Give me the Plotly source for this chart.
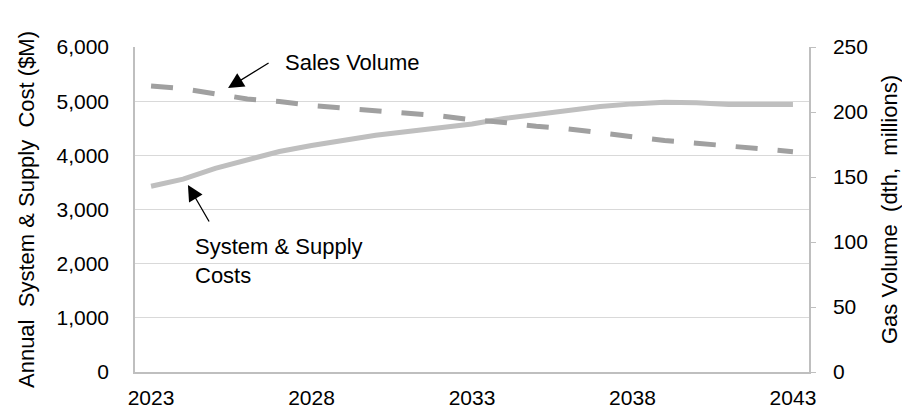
import plotly.graph_objects as go

years = list(range(2023, 2044))
costs = [3430, 3560, 3760, 3920, 4070, 4180, 4280, 4370, 4440, 4510, 4580,
         4680, 4750, 4840, 4900, 4950, 4980, 4970, 4940, 4940, 4940]
sales_volume = [220, 218, 214, 210, 208, 205, 203, 201, 199, 197, 194,
                192, 189, 187, 184, 181, 178, 176, 174, 172, 169.5]
x_ticks = [2023, 2028, 2033, 2038, 2043]
left_ticks = [0, 1000, 2000, 3000, 4000, 5000, 6000]
right_ticks = [0, 50, 100, 150, 200, 250]

FONT = "Liberation Sans, Arial, sans-serif"

fig = go.Figure()
fig.add_trace(go.Scatter(x=years, y=costs, mode="lines",
                         line=dict(color="#BFBFBF", width=5),
                         name="System & Supply Costs", yaxis="y"))
fig.add_trace(go.Scatter(x=years, y=sales_volume, mode="lines",
                         line=dict(color="#A0A0A0", width=5, dash="22px,20px"),
                         name="Sales Volume", yaxis="y2"))

fig.update_layout(
    width=902, height=411,
    margin=dict(l=135, r=93, t=47, b=39),
    paper_bgcolor="white", plot_bgcolor="white",
    showlegend=False,
    font=dict(family=FONT, size=21, color="#000000"),
    xaxis=dict(range=[2022.5, 2043.5], tickvals=x_ticks, showgrid=False,
               showline=True, linecolor="#BFBFBF", linewidth=1.5,
               ticks="", ticklabelstandoff=6, zeroline=False, automargin=False,
               tickfont=dict(size=21)),
    yaxis=dict(range=[0, 6000], tickvals=left_ticks, tickformat=",",
               showgrid=True, gridcolor="#D9D9D9", gridwidth=1,
               showline=True, linecolor="#BFBFBF", linewidth=1.5, automargin=False,
               zeroline=False, ticks="", ticklabelstandoff=20,
               tickfont=dict(size=21),
               title=dict(text="Annual  System & Supply  Cost ($M)",
                          font=dict(size=22), standoff=16)),
    yaxis2=dict(range=[0, 250], tickvals=right_ticks, overlaying="y", side="right",
                showgrid=False, showline=True, linecolor="#BFBFBF", linewidth=1.5,
                zeroline=False, ticks="outside", ticklen=5, tickcolor="#BFBFBF",
                automargin=False,
                ticklabelstandoff=13, tickfont=dict(size=21),
                title=dict(text="Gas Volume  (dth,  millions)",
                           font=dict(size=22), standoff=20)),
)

# arrows
fig.add_annotation(x=2025.4, y=5243, xref="x", yref="y", text="", showarrow=True,
                   ax=42, ay=-26, arrowhead=2, arrowsize=2.4, arrowwidth=1.3,
                   arrowcolor="#000000")
fig.add_annotation(x=2024.15, y=3452, xref="x", yref="y", text="", showarrow=True,
                   ax=22, ay=38, arrowhead=2, arrowsize=2.4, arrowwidth=1.3,
                   arrowcolor="#000000")
# labels
fig.add_annotation(x=2027.11, y=5723, xref="x", yref="y", text="Sales Volume",
                   showarrow=False, xanchor="left", yanchor="middle",
                   font=dict(size=22))
fig.add_annotation(x=2024.31, y=2058, xref="x", yref="y",
                   text="System & Supply<br>Costs", showarrow=False,
                   xanchor="left", yanchor="middle", align="left",
                   font=dict(size=22))

fig.write_html("out.html")
